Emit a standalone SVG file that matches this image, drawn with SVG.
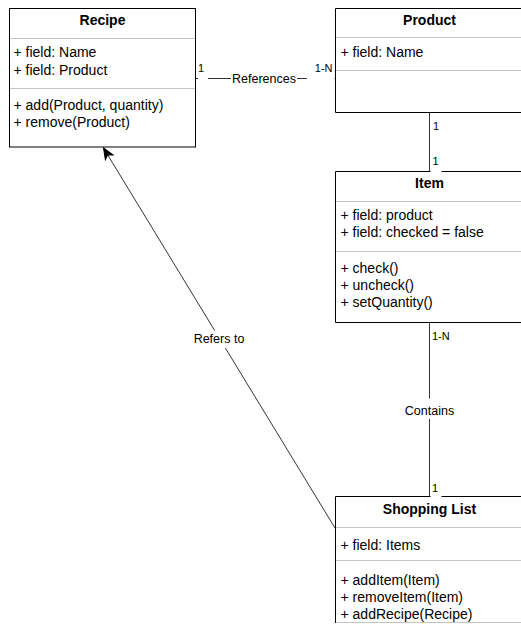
<svg xmlns="http://www.w3.org/2000/svg" width="521" height="625" viewBox="0 0 521 625">
  <style>
    .box { fill: #ffffff; stroke: #000000; stroke-width: 1; }
    .sep { stroke: #c4c4c4; stroke-width: 1; fill: none; }
    .title { font-family: "Liberation Sans", Arial, Helvetica, sans-serif; font-size: 14px; font-weight: bold; fill: #000; text-anchor: middle; }
    .member { font-family: "Liberation Sans", Arial, Helvetica, sans-serif; font-size: 14px; fill: #000; }
    .edge { stroke: #333333; stroke-width: 1; fill: none; }
    .elabel { font-family: "Liberation Sans", Arial, Helvetica, sans-serif; font-size: 12.5px; fill: #000; text-anchor: middle; }
    .mult { font-family: "Liberation Sans", Arial, Helvetica, sans-serif; font-size: 11px; fill: #000; }
    .bg { fill: #ffffff; stroke: none; }
  </style>
  <defs>
    <marker id="arrow" markerUnits="userSpaceOnUse" markerWidth="14" markerHeight="12" viewBox="-12 -6 14 12" refX="0" refY="0" orient="auto">
      <path d="M0,0 L-11,-4.5 L-8,0 L-11,4.5 Z" fill="#000000" stroke="#000000" stroke-width="1" stroke-linejoin="miter"/>
    </marker>
  </defs>
  <rect x="0" y="0" width="521" height="625" fill="#ffffff"/>

  <g id="recipe">
    <rect class="box" x="9.5" y="8.5" width="186" height="138.5"/>
    <line class="sep" x1="10" y1="38.5" x2="195" y2="38.5"/>
    <line class="sep" x1="10" y1="88.5" x2="195" y2="88.5"/>
    <text class="title" x="102.5" y="24.5">Recipe</text>
    <text class="member" x="13.5" y="57">+ field: Name</text>
    <text class="member" x="13.5" y="74.5">+ field: Product</text>
    <text class="member" x="13.5" y="109.5">+ add(Product, quantity)</text>
    <text class="member" x="13.5" y="126.5">+ remove(Product)</text>
  </g>

  <g id="product">
    <rect class="bg" x="335.5" y="8.5" width="185.5" height="104"/>
    <path class="box" style="fill:none" d="M521,8.5 H335.5 V112.5 H521"/>
    <line class="sep" x1="336" y1="37.5" x2="521" y2="37.5"/>
    <line class="sep" x1="336" y1="70.5" x2="521" y2="70.5"/>
    <text class="title" x="429.5" y="24.5">Product</text>
    <text class="member" x="340.5" y="57">+ field: Name</text>
  </g>

  <g id="item">
    <rect class="bg" x="335.5" y="171.5" width="185.5" height="151"/>
    <path class="box" style="fill:none" d="M521,171.5 H335.5 V322.5 H521"/>
    <line class="sep" x1="336" y1="201.5" x2="521" y2="201.5"/>
    <line class="sep" x1="336" y1="251.5" x2="521" y2="251.5"/>
    <text class="title" x="429.5" y="187.5">Item</text>
    <text class="member" x="340.5" y="219.5">+ field: product</text>
    <text class="member" x="340.5" y="237">+ field: checked = false</text>
    <text class="member" x="340.5" y="273">+ check()</text>
    <text class="member" x="340.5" y="290">+ uncheck()</text>
    <text class="member" x="340.5" y="307">+ setQuantity()</text>
  </g>

  <g id="shopping-list">
    <rect class="bg" x="335.5" y="496.5" width="185.5" height="126.5"/>
    <path class="box" style="fill:none" d="M521,496.5 H335.5 V623"/>
    <line class="sep" x1="336" y1="527.5" x2="521" y2="527.5"/>
    <line class="sep" x1="336" y1="560.5" x2="521" y2="560.5"/>
    <line class="sep" x1="336" y1="622.5" x2="521" y2="622.5"/>
    <text class="title" x="429.5" y="513.5">Shopping List</text>
    <text class="member" x="340.5" y="549.5">+ field: Items</text>
    <text class="member" x="340.5" y="584.5">+ addItem(Item)</text>
    <text class="member" x="340.5" y="601.5">+ removeItem(Item)</text>
    <text class="member" x="340.5" y="618.5">+ addRecipe(Recipe)</text>
  </g>

  <g id="connectors">
    <!-- Recipe - Product : References -->
    <line class="edge" x1="196" y1="78.5" x2="335" y2="78.5"/>
    <rect class="bg" x="198" y="62" width="10" height="18"/>
    <text class="mult" x="198" y="72">1</text>
    <rect class="bg" x="231" y="70" width="66" height="16"/>
    <text class="elabel" x="264" y="82.5">References</text>
    <rect class="bg" x="307" y="62" width="27.5" height="18"/>
    <text class="mult" x="332.5" y="72" text-anchor="end">1-N</text>

    <!-- Product - Item -->
    <line class="edge" x1="429.5" y1="112.5" x2="429.5" y2="171"/>
    <rect class="bg" x="431" y="120" width="10" height="13"/>
    <text class="mult" x="433" y="130">1</text>
    <rect class="bg" x="430.5" y="155" width="11" height="17.5"/>
    <text class="mult" x="432.5" y="164.5">1</text>

    <!-- Item - Shopping List : Contains -->
    <line class="edge" x1="429.5" y1="322.5" x2="429.5" y2="496.5"/>
    <rect class="bg" x="431" y="328" width="22" height="14"/>
    <text class="mult" x="432" y="339.5">1-N</text>
    <rect class="bg" x="403" y="398.5" width="52" height="20.5"/>
    <text class="elabel" x="429.5" y="414.5">Contains</text>
    <rect class="bg" x="430.5" y="481" width="11" height="16.5"/>
    <text class="mult" x="432" y="491.5">1</text>

    <!-- Shopping List - Recipe : Refers to -->
    <line class="edge" x1="335" y1="528" x2="103.5" y2="148" stroke="#000" marker-end="url(#arrow)"/>
    <rect class="bg" x="192" y="330.5" width="54" height="17.5"/>
    <text class="elabel" x="219" y="342.5">Refers to</text>
  </g>
</svg>
